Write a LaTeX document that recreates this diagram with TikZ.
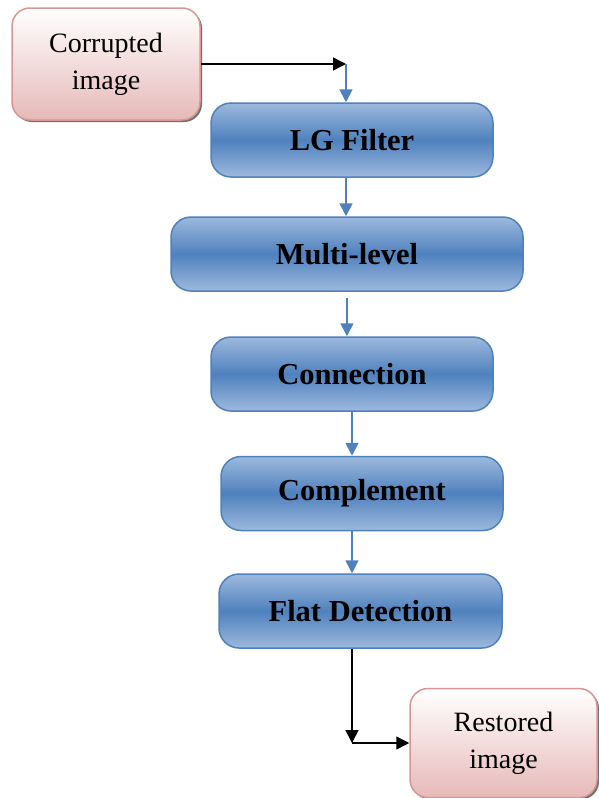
\documentclass[tikz,border=0pt]{standalone}
\usepackage{fontspec}
\setmainfont{Liberation Serif}
\usetikzlibrary{shadows,arrows.meta}
\definecolor{stepblue}{HTML}{4F81BD}
\definecolor{steplight}{HTML}{9DB9DE}
\definecolor{pinkedge}{HTML}{D99694}
\definecolor{pinkfill}{HTML}{E6B9B8}
\tikzset{
    stepbox/.style={draw=stepblue, line width=1.5pt, rounded corners=20pt,
        top color=steplight, bottom color=steplight, middle color=stepblue,
        minimum height=74pt, inner sep=0pt,
        font=\fontsize{30.5}{36}\selectfont\bfseries},
    imgbox/.style={draw=pinkedge, line width=1.5pt, rounded corners=18pt,
        top color=white, bottom color=pinkfill, align=center,
        drop shadow={shadow xshift=2pt, shadow yshift=-2pt, fill=black!70, opacity=0.8},
        inner sep=0pt, font=\fontsize{28}{37}\selectfont},
    blu/.style={stepblue, line width=1.8pt, -{Triangle[length=13pt,width=13pt]}},
    blk/.style={black, line width=1.5pt, -{Triangle[length=13pt,width=13pt]}}
}
\begin{document}
\begin{tikzpicture}[x=1pt, y=-1pt]
        \useasboundingbox (0, 0) rectangle (598, 798);
        % input and output
        \node[imgbox, minimum width=188pt, minimum height=112pt] (corr) at (106, 64) {Corrupted\\image};
        \node[imgbox, minimum width=187pt, minimum height=109pt] (rest) at (503.5, 743) {Restored\\image};
        % processing steps
        \node[stepbox, minimum width=282pt] (lg) at (352, 140) {LG Filter};
        \node[stepbox, minimum width=352pt] (multi) at (347, 254) {Multi-level};
        \node[stepbox, minimum width=282pt] (conn) at (352, 374) {Connection};
        \node[stepbox, minimum width=282pt] (comp) at (362, 493.5) {Complement};
        \node[stepbox, minimum width=283pt] (flat) at (360.5, 611) {Flat Detection};
        \coordinate (join) at (346, 64);
        \coordinate (bend) at (352, 743);
        % connectors
        \draw[blk] (corr.east) -- (join);
        \draw[blu] (join) -- (join |- lg.north);
        \draw[blu] (join |- lg.south) -- (join |- multi.north);
        \draw[blu] ([yshift=-6pt]multi.south) -- (multi.south |- conn.north);
        \draw[blu] (conn.south) -- (conn.south |- comp.north);
        \draw[blu] (conn.south |- comp.south) -- (conn.south |- flat.north);
        \draw[blk] (bend |- flat.south) -- (bend);
        \draw[blk] (bend) -- (rest.west);
    \end{tikzpicture}
\end{document}
